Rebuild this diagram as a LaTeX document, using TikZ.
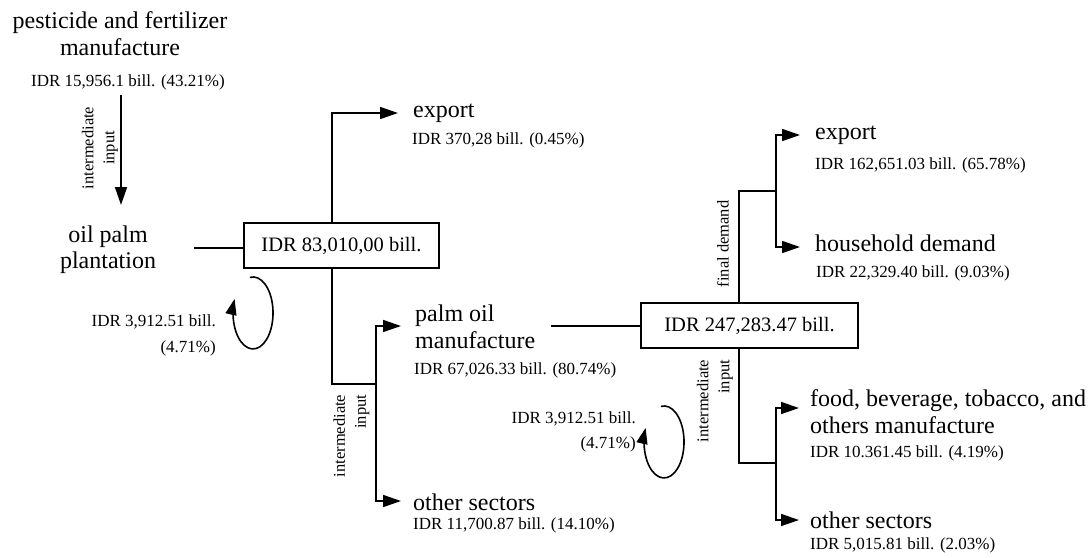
\documentclass[tikz,border=0pt]{standalone}
\usepackage{fontspec}
\setmainfont{Liberation Serif}
\usetikzlibrary{arrows.meta}
\newcommand\fBig{\fontsize{24}{27}\selectfont}
\newcommand\fBox{\fontsize{20.5}{24}\selectfont}
\newcommand\fSm{\fontsize{17}{25}\selectfont}
\newcommand\fRot{\fontsize{16.5}{21}\selectfont}
\begin{document}
\begin{tikzpicture}[x=1pt,y=-1pt,
  lbl/.style={inner sep=0pt,font=\fBig},
  val/.style={inner sep=0pt,font=\fSm},
  rot/.style={inner sep=0pt,font=\fRot,rotate=90},
  valbox/.style={draw,line width=1.6pt,inner sep=0pt,minimum height=45pt,font=\fBox},
  ln/.style={line width=1.6pt},
  arr/.style={line width=1.6pt,-{Triangle[length=18pt,width=12pt]}},
  loopa/.style={line width=1.6pt,-{Triangle[length=16pt,width=11pt]}}]
\useasboundingbox (0,0) rectangle (1092,557);
% left part
\node[lbl,align=center] (pest) at (120,34) {pesticide and fertilizer\\manufacture};
\node[val] (pv) at (128,82) {IDR 15,956.1 bill. (43.21\%)};
\node[lbl,align=center,font=\fontsize{24}{26}\selectfont] (op) at (108,250) {oil palm\\plantation};
\node[valbox,minimum width=195pt] (box1) at (341.5,245.5) {IDR 83,010,00 bill.};
\node[lbl,anchor=west] (e1) at (413,113) {export};
\node[val,anchor=west] (e1v) at (412,140) {IDR 370,28 bill. (0.45\%)};
\node[lbl,anchor=west,align=left] (po) at (415,326.5) {palm oil\\manufacture};
\node[val,anchor=west] (pov) at (414,370) {IDR 67,026.33 bill. (80.74\%)};
\node[lbl,anchor=west] (os1) at (413,502) {other sectors};
\node[val,anchor=west] (os1v) at (413,525) {IDR 11,700.87 bill. (14.10\%)};
\node[val,anchor=east,align=right,font=\fontsize{17}{26}\selectfont] (l1) at (216,335) {IDR 3,912.51 bill.\\(4.71\%)};
\node[rot,align=center] (r1) at (100,148) {intermediate\\input};
\node[rot,align=right] (r2) at (351.5,436) {intermediate\\input};
% right part
\node[valbox,minimum width=217pt] (box2) at (749.5,325.5) {IDR 247,283.47 bill.};
\node[lbl,anchor=west] (e2) at (815,135) {export};
\node[val,anchor=west] (e2v) at (815,165) {IDR 162,651.03 bill. (65.78\%)};
\node[lbl,anchor=west] (hh) at (815,243) {household demand};
\node[val,anchor=west] (hhv) at (816,273) {IDR 22,329.40 bill. (9.03\%)};
\node[lbl,anchor=west,align=left] (fd) at (810,411.5) {food, beverage, tobacco, and\\others manufacture};
\node[val,anchor=west] (fdv) at (810,453) {IDR 10.361.45 bill. (4.19\%)};
\node[lbl,anchor=west] (os2) at (810,520) {other sectors};
\node[val,anchor=west] (os2v) at (810,545) {IDR 5,015.81 bill. (2.03\%)};
\node[val,anchor=east,align=right] (l2) at (636,432) {IDR 3,912.51 bill.\\(4.71\%)};
\node[rot,align=right] (r3) at (715,401) {intermediate\\input};
\node[rot] (r4) at (723,244) {final demand};
% coordinates
\coordinate (a1) at (121,95);
\coordinate (a2) at (121,205);
\coordinate (c1) at (194,248);
\coordinate (b1x) at (332,0);
\coordinate (e1t) at (398,113);
\coordinate (j1) at (376,384);
\coordinate (pot) at (401,326);
\coordinate (os1t) at (401,501);
\coordinate (c2) at (551,326);
\coordinate (b2x) at (739,0);
\coordinate (j2) at (776,191);
\coordinate (e2t) at (800,135);
\coordinate (hht) at (800,247);
\coordinate (j3) at (776,463);
\coordinate (fdt) at (799,408);
\coordinate (os2t) at (799,520);
% connectors
\draw[arr] (a1) -- (a2);
\draw[ln] (c1) -- (c1 -| box1.west);
\draw[arr] (box1.north -| b1x) |- (e1t);
\draw[ln] (box1.south -| b1x) |- (j1);
\draw[arr] (j1) |- (pot);
\draw[arr] (j1) |- (os1t);
\draw[ln] (c2) -- (c2 -| box2.west);
\draw[ln] (box2.north -| b2x) |- (j2);
\draw[arr] (j2) |- (e2t);
\draw[arr] (j2) |- (hht);
\draw[ln] (box2.south -| b2x) |- (j3);
\draw[arr] (j3) |- (fdt);
\draw[arr] (j3) |- (os2t);
% self loops
\draw[loopa] (249.9,277.4) arc[start angle=99,end angle=-203,x radius=20pt,y radius=36pt];
\draw[loopa] (660.9,406.4) arc[start angle=99,end angle=-203,x radius=20pt,y radius=36pt];
\end{tikzpicture}
\end{document}
